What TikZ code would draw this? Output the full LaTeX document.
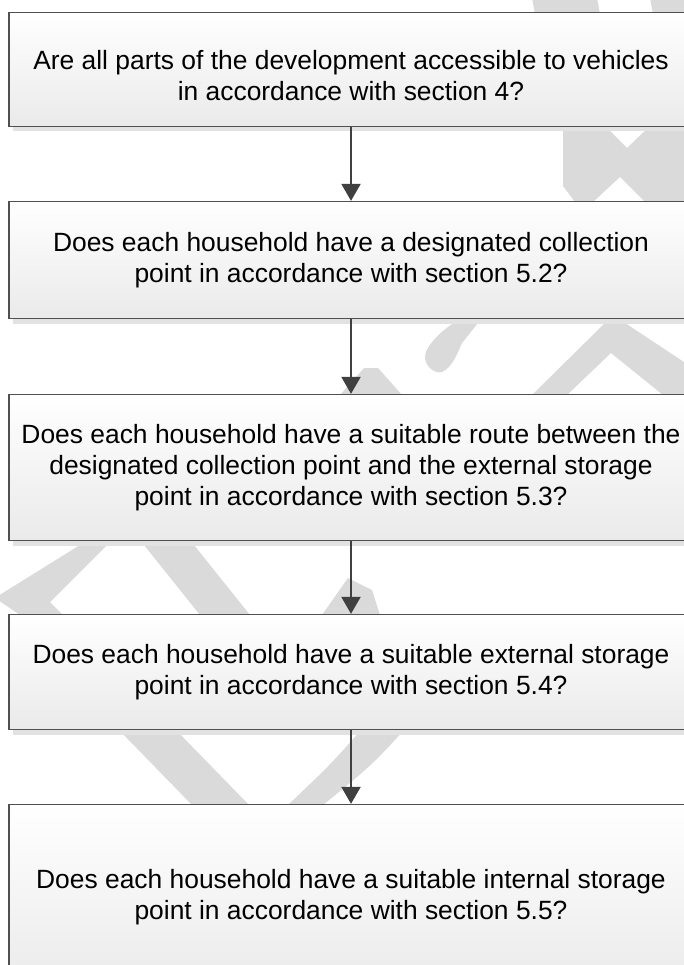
\documentclass[tikz,border=0pt]{standalone}
\usepackage{fontspec}
\setmainfont{Liberation Sans}
\usetikzlibrary{arrows.meta,shadows}
\definecolor{wm}{HTML}{DADADA}
\definecolor{boxline}{HTML}{505050}
\definecolor{arrowc}{HTML}{404040}
\definecolor{shadowc}{HTML}{E2E2E2}
\definecolor{boxbot}{HTML}{EAEAEA}
\begin{document}
\begin{tikzpicture}[x=1pt,y=-1pt,
  qbox/.style={draw=boxline, line width=1.3pt, top color=white, bottom color=boxbot,
    minimum width=684pt, align=center, inner sep=0pt,
    font=\fontsize{26.4}{31}\selectfont,
    general shadow={fill=shadowc, shadow xshift=4pt, shadow yshift=-5pt}},
  flow/.style={draw=arrowc, line width=2.1pt, -{Triangle[length=17pt,width=19pt]}},
  wmark/.style={fill=wm, draw=none}]
\useasboundingbox (0,0) rectangle (684,965);
% watermark pieces (visible between the boxes)
\fill[wmark] (532,-2) -- (597,-2) -- (600,14) -- (535,14) -- cycle;
\fill[wmark] (650,-2) -- (690,-2) -- (690,14) -- (653,14) -- cycle;
\fill[wmark] (563,126) -- (605,126) -- (627,148) -- (650,126) -- (690,126) -- (690,202)
  -- (645,202) -- (620,177) -- (593,202) -- (575,202) -- (563,186) -- cycle;
\fill[wmark] (462,318) .. controls (440,330) and (424,348) .. (425,358)
  .. controls (426,368) and (436,374) .. (442,372)
  .. controls (452,368) and (458,352) .. (462,343) -- (482,318) -- cycle;
\fill[wmark] (340,395) -- (364,368) -- (378,368) -- (402,395) -- cycle;
\fill[wmark] (532,395) -- (605,323) -- (625,323) -- (690,366) -- (690,395) -- (663,395)
  -- (611,353) -- (567,395) -- cycle;
\fill[wmark] (88,540) -- (112,540) -- (50,602) -- (63,615) -- (20,615) -- (-2,600) -- (-2,596) -- cycle;
\fill[wmark] (140,540) -- (190,540) -- (250,615) -- (200,615) -- cycle;
\fill[wmark] (322,615) -- (348,578) -- (372,590) -- (380,615) -- cycle;
\fill[wmark] (118,729) -- (175,729) -- (249,805) -- (192,805) -- cycle;
\fill[wmark] (362,729) .. controls (330,765) .. (288,805) -- (323,805) .. controls (372,765) .. (405,729) -- cycle;
% boxes
\node[qbox, minimum height=114pt] (b1) at (351,69.5)
  {\rule{0pt}{32pt}Are all parts of the development accessible to vehicles\\in accordance with section 4?};
\node[qbox, minimum height=117pt] (b2) at (351,260)
  {Does each household have a designated collection\\point in accordance with section 5.2?};
\node[qbox, minimum height=146pt] (b3) at (351,467.5)
  {Does each household have a suitable route between the\\designated collection point and the external storage\\point in accordance with section 5.3?};
\node[qbox, minimum height=115pt] (b4) at (351,672)
  {Does each household have a suitable external storage\\point in accordance with section 5.4?};
\node[qbox, minimum height=186pt] (b5) at (351,897.5)
  {Does each household have a suitable internal storage\\point in accordance with section 5.5?};
% connectors
\draw[flow] (b1.south) -- (b2.north);
\draw[flow] (b2.south) -- (b3.north);
\draw[flow] (b3.south) -- (b4.north);
\draw[flow] (b4.south) -- (b5.north);
\end{tikzpicture}
\end{document}
